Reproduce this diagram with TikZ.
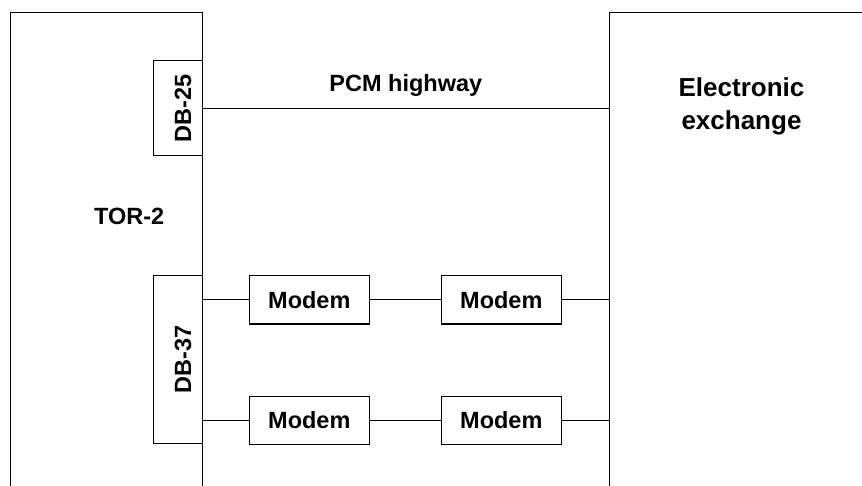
\documentclass[tikz,border=0pt]{standalone}
\usepackage{fontspec}
\setmainfont{Liberation Sans}
\begin{document}
\begin{tikzpicture}[x=1pt,y=-1pt,
  every node/.style={font=\bfseries\fontsize{23.5}{28}\selectfont, inner sep=0pt},
  blk/.style={draw, line width=1pt},
  wire/.style={line width=1pt}]
\useasboundingbox (0,0) rectangle (862,486);
% enclosures
\draw[wire] (10,486) -- (10,13) -- (202,13) -- (202,486);
\draw[wire] (609,486) -- (609,13) -- (862,13);
\coordinate (exL) at (609,13);
% connector boxes
\node[blk, minimum width=49pt, minimum height=95pt] (db25) at (177.5,108.3) {\hspace*{11pt}\rotatebox{90}{DB-25}};
\node[blk, minimum width=49pt, minimum height=168pt] (db37) at (177.5,359.5) {\hspace*{11pt}\rotatebox{90}{DB-37}};
% labels
\node[anchor=base] (tor) at (129.2,225) {TOR-2};
\node[anchor=base, font=\bfseries\fontsize{26}{33.3}\selectfont, align=center] (exch) at (741.5,130) {Electronic\\exchange};
% PCM highway
\coordinate (pcmR) at (db25.east -| exL);
\draw[wire] (db25.east) -- (pcmR);
\node[anchor=base] (pcm) at (405.8,91.5) {PCM highway};
% modems
\node[blk, minimum width=120pt, minimum height=48pt] (m11) at (309.3,300) {Modem};
\node[blk, minimum width=120pt, minimum height=48pt] (m12) at (501.3,300) {Modem};
\node[blk, minimum width=120pt, minimum height=48pt] (m21) at (309.3,420) {Modem};
\node[blk, minimum width=120pt, minimum height=48pt] (m22) at (501.3,420) {Modem};
\coordinate (r1) at (m12.east -| exL);
\coordinate (r2) at (m22.east -| exL);
\draw[wire] (m11.west -| db37.east) -- (m11.west);
\draw[wire] (m11.east) -- (m12.west);
\draw[wire] (m12.east) -- (r1);
\draw[wire] (m21.west -| db37.east) -- (m21.west);
\draw[wire] (m21.east) -- (m22.west);
\draw[wire] (m22.east) -- (r2);
\end{tikzpicture}
\end{document}
